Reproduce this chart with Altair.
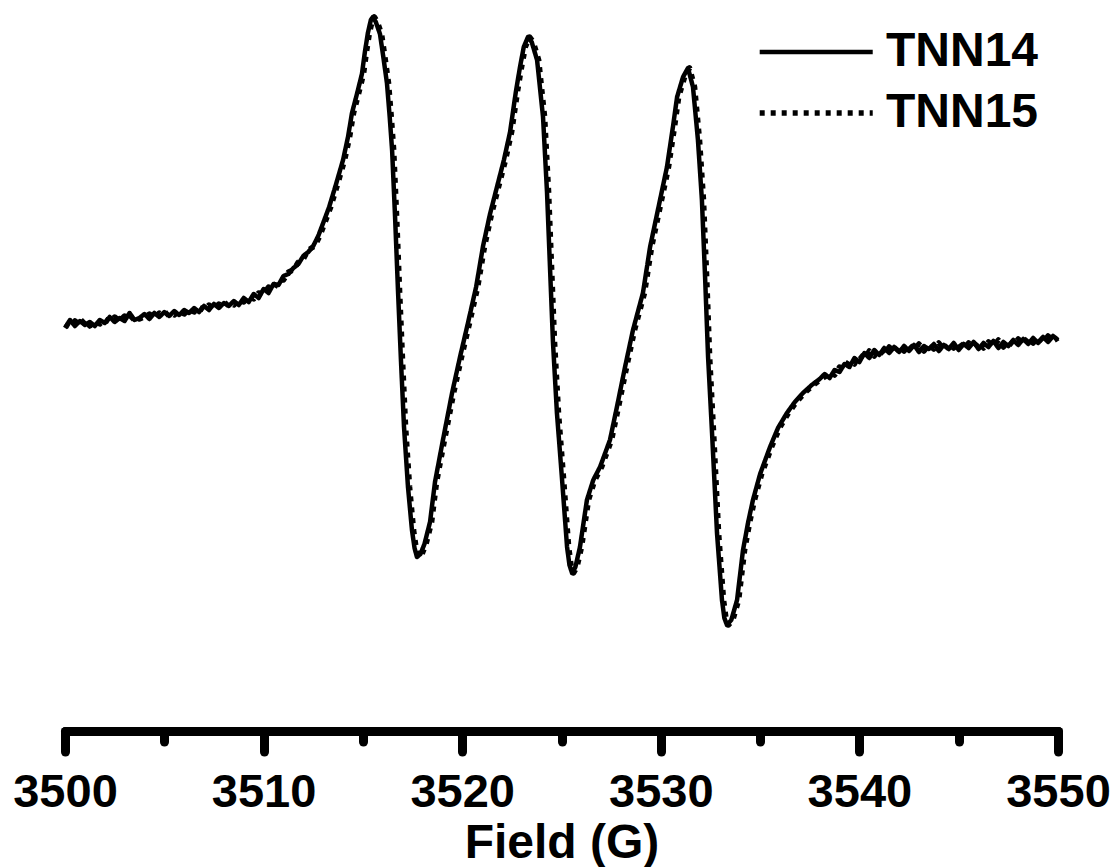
import altair as alt
import pandas as pd

# ---- data (field in G, signal in arbitrary units) ----
tnn14_field = [
    3500.00, 3500.25, 3500.50, 3500.75, 3501.00, 3501.25, 3501.50, 3501.75,
    3502.00, 3502.25, 3502.50, 3502.75, 3503.00, 3503.25, 3503.50, 3503.75,
    3504.00, 3504.25, 3504.50, 3504.75, 3505.00, 3505.25, 3505.50, 3505.75,
    3506.00, 3506.25, 3506.50, 3506.75, 3507.00, 3507.25, 3507.50, 3507.75,
    3508.00, 3508.25, 3508.50, 3508.75, 3509.00, 3509.25, 3509.50, 3509.75,
    3510.00, 3510.25, 3510.50, 3510.75, 3511.00, 3511.25, 3511.50, 3511.75,
    3512.00, 3512.25, 3512.50, 3512.75, 3513.00, 3513.30, 3513.65, 3514.00,
    3514.25, 3514.45, 3514.70, 3514.95, 3515.10, 3515.25, 3515.40, 3515.50,
    3515.65, 3515.86, 3516.05, 3516.21, 3516.35, 3516.47, 3516.62, 3516.77,
    3516.92, 3517.07, 3517.27, 3517.47, 3517.60, 3517.72, 3517.90, 3518.10,
    3518.38, 3518.63, 3519.03, 3519.49, 3519.89, 3520.29, 3520.70, 3521.05,
    3521.40, 3521.75, 3522.10, 3522.41, 3522.70, 3522.91, 3523.10, 3523.31,
    3523.50, 3523.77, 3524.07, 3524.27, 3524.42, 3524.57, 3524.77, 3525.03,
    3525.28, 3525.40, 3525.53, 3525.70, 3525.93, 3526.28, 3526.60, 3526.94,
    3527.44, 3527.79, 3528.20, 3528.60, 3529.10, 3529.46, 3529.96, 3530.31,
    3530.61, 3530.82, 3531.12, 3531.37, 3531.62, 3531.87, 3532.07, 3532.23,
    3532.38, 3532.58, 3532.83, 3533.08, 3533.20, 3533.33, 3533.55, 3533.84,
    3534.14, 3534.40, 3534.64, 3535.00, 3535.50, 3535.90, 3536.35, 3536.75,
    3537.16, 3537.60, 3538.00,
    3538.25, 3538.50, 3538.75, 3539.00, 3539.25, 3539.50, 3539.75, 3540.00,
    3540.25, 3540.50, 3540.75, 3541.00, 3541.25, 3541.50, 3541.75, 3542.00,
    3542.25, 3542.50, 3542.75, 3543.00, 3543.25, 3543.50, 3543.75, 3544.00,
    3544.25, 3544.50, 3544.75, 3545.00, 3545.25, 3545.50, 3545.75, 3546.00,
    3546.25, 3546.50, 3546.75, 3547.00, 3547.25, 3547.50, 3547.75, 3548.00,
    3548.25, 3548.50, 3548.75, 3549.00, 3549.25, 3549.50, 3549.75, 3550.00,
]
tnn14_signal = [
    -6, 2, -4, 1, -3, 0, -4, 2,
    -1, 5, 0, 4, 1, 9, 2, 4,
    8, 3, 9, 5, 10, 6, 11, 7,
    12, 9, 14, 10, 16, 12, 18, 14,
    19, 16, 21, 17, 24, 20, 28, 24,
    33, 29, 38, 37, 46, 48, 54, 58,
    66, 70, 76, 86, 99, 115, 138, 162,
    185, 209, 228, 248, 270, 289, 302, 305,
    300, 288, 262, 239, 205, 172, 105, 30,
    -40, -105, -165, -208, -226, -235, -232, -222,
    -200, -160, -118, -71, -35, -1, 35, 76,
    108, 135, 162, 190, 230, 255, 275, 285,
    280, 262, 205, 130, 55, -20, -91, -158,
    -225, -243, -251, -245, -225, -178, -158, -145,
    -118, -85, -45, -8, 29, 75, 122, 155,
    195, 225, 245, 254, 235, 182, 122, 45,
    -35, -111, -211, -278, -296, -303, -298, -278,
    -228, -200, -178, -152, -125, -106, -91, -80,
    -71, -63, -57,
    -52, -56, -48, -50, -42, -45, -36, -40,
    -31, -36, -28, -33, -26, -31, -25, -30,
    -24, -29, -23, -30, -24, -27, -22, -29,
    -23, -27, -21, -28, -22, -26, -20, -27,
    -21, -25, -19, -26, -20, -24, -18, -23,
    -17, -22, -16, -21, -15, -20, -14, -18,
]

tnn15_field = [
    3500.00, 3500.25, 3500.50, 3500.75, 3501.00, 3501.25, 3501.50, 3501.75,
    3502.00, 3502.25, 3502.50, 3502.75, 3503.00, 3503.25, 3503.50, 3503.75,
    3504.00, 3504.25, 3504.50, 3504.75, 3505.00, 3505.25, 3505.50, 3505.75,
    3506.00, 3506.25, 3506.50, 3506.75, 3507.00, 3507.25, 3507.50, 3507.75,
    3508.00, 3508.25, 3508.50, 3508.75, 3509.00, 3509.25, 3509.50, 3509.75,
    3510.00, 3510.25, 3510.50, 3510.75, 3511.00, 3511.25, 3511.50, 3511.75,
    3512.00, 3512.25, 3512.58, 3512.83, 3513.08, 3513.38, 3513.73, 3514.08,
    3514.33, 3514.53, 3514.78, 3515.03, 3515.18, 3515.33, 3515.48, 3515.58,
    3515.73, 3515.94, 3516.13, 3516.29, 3516.43, 3516.55, 3516.70, 3516.85,
    3517.00, 3517.15, 3517.35, 3517.55, 3517.68, 3517.80, 3517.98, 3518.18,
    3518.46, 3518.71, 3519.11, 3519.57, 3519.97, 3520.37, 3520.78, 3521.13,
    3521.48, 3521.83, 3522.18, 3522.49, 3522.78, 3522.99, 3523.18, 3523.39,
    3523.58, 3523.85, 3524.15, 3524.35, 3524.50, 3524.65, 3524.85, 3525.11,
    3525.36, 3525.48, 3525.61, 3525.78, 3526.01, 3526.36, 3526.68, 3527.02,
    3527.52, 3527.87, 3528.28, 3528.68, 3529.18, 3529.54, 3530.04, 3530.39,
    3530.69, 3530.90, 3531.20, 3531.45, 3531.70, 3531.95, 3532.15, 3532.31,
    3532.46, 3532.66, 3532.91, 3533.16, 3533.28, 3533.41, 3533.63, 3533.92,
    3534.22, 3534.48, 3534.72, 3535.08, 3535.58, 3535.98, 3536.43, 3536.83,
    3537.24, 3537.68, 3538.08,
    3538.25, 3538.50, 3538.75, 3539.00, 3539.25, 3539.50, 3539.75, 3540.00,
    3540.25, 3540.50, 3540.75, 3541.00, 3541.25, 3541.50, 3541.75, 3542.00,
    3542.25, 3542.50, 3542.75, 3543.00, 3543.25, 3543.50, 3543.75, 3544.00,
    3544.25, 3544.50, 3544.75, 3545.00, 3545.25, 3545.50, 3545.75, 3546.00,
    3546.25, 3546.50, 3546.75, 3547.00, 3547.25, 3547.50, 3547.75, 3548.00,
    3548.25, 3548.50, 3548.75, 3549.00, 3549.25, 3549.50, 3549.75, 3550.00,
]
tnn15_signal = [
    -2, -5, 1, -3, 2, -4, 1, -2,
    3, 0, 5, 1, 6, 2, 7, 3,
    5, 8, 4, 9, 6, 10, 7, 11,
    8, 13, 10, 15, 12, 17, 13, 18,
    15, 20, 17, 22, 20, 26, 23, 29,
    28, 35, 33, 42, 42, 50, 52, 60,
    63, 72, 76, 86, 99, 115, 138, 162,
    185, 209, 228, 248, 270, 289, 302, 305,
    300, 288, 262, 239, 205, 172, 105, 30,
    -40, -105, -165, -208, -226, -235, -232, -222,
    -200, -160, -118, -71, -35, -1, 35, 76,
    108, 135, 162, 190, 230, 255, 275, 285,
    280, 262, 205, 130, 55, -20, -91, -158,
    -225, -243, -251, -245, -225, -178, -158, -145,
    -118, -85, -45, -8, 29, 75, 122, 155,
    195, 225, 245, 254, 235, 182, 122, 45,
    -35, -111, -211, -278, -296, -303, -298, -278,
    -228, -200, -178, -152, -125, -106, -91, -80,
    -71, -63, -57,
    -55, -50, -53, -45, -47, -39, -42, -33,
    -37, -29, -34, -27, -32, -25, -30, -24,
    -29, -23, -28, -22, -29, -23, -27, -21,
    -28, -22, -26, -20, -27, -21, -25, -19,
    -26, -20, -24, -18, -25, -19, -23, -17,
    -22, -16, -21, -15, -20, -14, -19, -16,
]

series_names = ["TNN14", "TNN15"]
x_ticks = [3500, 3505, 3510, 3515, 3520, 3525, 3530, 3535, 3540, 3545, 3550]
x_domain = [3500, 3550]
y_domain = [-409, 314]

frames = []
for name, f, s in [("TNN14", tnn14_field, tnn14_signal), ("TNN15", tnn15_field, tnn15_signal)]:
    frames.append(pd.DataFrame({"field": f, "signal": s, "sample": name, "idx": range(len(f))}))
df = pd.concat(frames, ignore_index=True)

FONT = "Liberation Sans"

chart = alt.Chart(df).mark_line(
    color="black", strokeCap="butt", strokeJoin="round"
).encode(
    x=alt.X(
        "field:Q",
        scale=alt.Scale(domain=x_domain, nice=False, zero=False),
        axis=alt.Axis(
            values=x_ticks,
            format="d",
            labelExpr="datum.value % 10 === 0 ? datum.label : ''",
            tickSize={"condition": {"test": "datum.value % 10 === 0", "value": 20.5}, "value": 10.5},
            tickWidth=9,
            tickColor="black",
            tickCap="round",
            domainWidth=9,
            domainColor="black",
            domainCap="round",
            grid=False,
            labelFont=FONT,
            labelFontSize=47,
            labelFontWeight="bold",
            labelColor="black",
            labelBaseline="alphabetic",
            labelPadding=55,
            labelFlush=False,
            labelOverlap=False,
            labelBound=False,
            title="Field (G)",
            titleFont=FONT,
            titleFontSize=48,
            titleFontWeight="bold",
            titleColor="black",
            titleBaseline="alphabetic",
            titleY=126,
        ),
    ),
    y=alt.Y(
        "signal:Q",
        scale=alt.Scale(domain=y_domain, nice=False, zero=False),
        axis=None,
    ),
    strokeDash=alt.StrokeDash(
        "sample:N",
        scale=alt.Scale(domain=series_names, range=[[1, 0], [5, 6]]),
        legend=alt.Legend(
            title=None,
            orient="none",
            legendX=682,
            legendY=20,
            padding=0,
            symbolType="M-1,0H9",
            symbolSize=511,
            symbolStrokeWidth=5,
            symbolStrokeColor="black",
            symbolFillColor="transparent",
            labelFont=FONT,
            labelFontSize=48,
            labelFontWeight="bold",
            labelColor="black",
            labelOffset=91,
            rowPadding=13,
        ),
    ),
    strokeWidth=alt.StrokeWidth(
        "sample:N",
        scale=alt.Scale(domain=series_names, range=[4.5, 5.5]),
        legend=None,
    ),
    order="idx:Q",
).properties(
    width=993,
    height=723,
    autosize=alt.AutoSizeParams(type="none"),
    padding={"left": 57, "top": 0, "right": 52, "bottom": 136},
    background="white",
).configure_view(strokeWidth=0)

chart.save("out.html", embed_options={"renderer": "svg", "actions": False})
